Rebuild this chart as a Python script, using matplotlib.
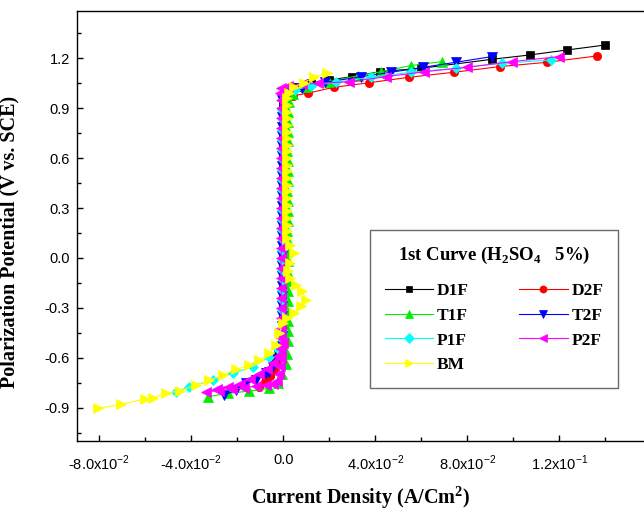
import matplotlib
matplotlib.use("Agg")
import matplotlib.pyplot as plt

# Polarization scans, 1st curve in 5% H2SO4 (current density in A/cm^2, potential in V vs SCE)
D1F_I = [-0.0076, -0.0060, -0.0045, -0.0032, -0.0022, -0.0015,
         -0.0004, -0.0003, -0.0004, -0.0003, -0.0004, -0.0003, -0.0004, -0.0003, -0.0004,
         -0.0003, -0.0004, -0.0003, -0.0004, -0.0003, -0.0004, -0.0003, -0.0004, -0.0003,
         -0.0004, -0.0003, -0.0004, -0.0003, -0.0003, -0.0002, -0.0001, 0.0000,
         0.0025, 0.0060, 0.0120, 0.0200, 0.0300, 0.0420, 0.0600, 0.0907, 0.1071, 0.1233, 0.1400]
D1F_E = [-0.724, -0.69, -0.65, -0.61, -0.57, -0.54,
         -0.52, -0.46, -0.40, -0.34, -0.28, -0.22, -0.16, -0.10, -0.04,
         0.02, 0.08, 0.14, 0.20, 0.26, 0.32, 0.38, 0.44, 0.50,
         0.56, 0.62, 0.68, 0.74, 0.80, 0.86, 0.92, 0.97,
         1.01, 1.03, 1.05, 1.07, 1.09, 1.12, 1.14, 1.194, 1.220, 1.250, 1.280]

D2F_I = [-0.0105, -0.0080, -0.0058, -0.0040, -0.0026, -0.0015,
         0.0000, -0.0001, 0.0000, 0.0001, 0.0000, -0.0001, 0.0000, 0.0001, 0.0000,
         -0.0001, 0.0000, 0.0001, 0.0000, -0.0001, 0.0000, 0.0001, 0.0000, -0.0001,
         0.0000, 0.0001, 0.0000, -0.0001, 0.0000, 0.0001, 0.0003,
         0.0010, 0.0040, 0.0105, 0.0220, 0.0372, 0.0546, 0.0741, 0.0940, 0.1146, 0.1363]
D2F_E = [-0.774, -0.745, -0.71, -0.67, -0.62, -0.57,
         -0.51, -0.45, -0.39, -0.33, -0.27, -0.21, -0.15, -0.09, -0.03,
         0.03, 0.09, 0.15, 0.21, 0.27, 0.33, 0.39, 0.45, 0.51,
         0.57, 0.63, 0.69, 0.75, 0.81, 0.87, 0.93,
         0.96, 0.975, 0.990, 1.026, 1.053, 1.086, 1.116, 1.150, 1.176, 1.214]

T1F_I = [-0.0329, -0.0243, -0.0150, -0.0062, -0.0025, -0.0005, 0.0010, 0.0016,
         0.0018, 0.0019, 0.0018, 0.0017, 0.0018, 0.0019, 0.0018, 0.0017, 0.0018,
         0.0019, 0.0018, 0.0017, 0.0018, 0.0019, 0.0018, 0.0017, 0.0018, 0.0019,
         0.0018, 0.0017, 0.0018, 0.0019, 0.0018, 0.0020, 0.0024,
         0.0040, 0.0100, 0.0200, 0.0322, 0.0423, 0.0553, 0.0690]
T1F_E = [-0.834, -0.814, -0.80, -0.784, -0.75, -0.70, -0.64, -0.58,
         -0.50, -0.44, -0.38, -0.32, -0.26, -0.20, -0.14, -0.08, -0.02,
         0.04, 0.10, 0.16, 0.22, 0.28, 0.34, 0.40, 0.46, 0.52,
         0.58, 0.64, 0.70, 0.76, 0.82, 0.88, 0.94,
         0.985, 1.025, 1.06, 1.095, 1.119, 1.156, 1.180]

T2F_I = [-0.0257, -0.0206, -0.0163, -0.0119, -0.0076, -0.0062, -0.0045, -0.0030, -0.0018,
         -0.0008, -0.0007, -0.0006, -0.0007, -0.0008, -0.0007, -0.0006, -0.0007, -0.0008,
         -0.0007, -0.0006, -0.0007, -0.0008, -0.0007, -0.0006, -0.0007, -0.0008, -0.0007,
         -0.0006, -0.0007, -0.0008, -0.0007, -0.0006, -0.0007,
         -0.0005, 0.0020, 0.0080, 0.0180, 0.0336, 0.0467, 0.0608, 0.0749, 0.0905]
T2F_E = [-0.824, -0.794, -0.754, -0.734, -0.694, -0.684, -0.65, -0.61, -0.57,
         -0.53, -0.47, -0.41, -0.35, -0.29, -0.23, -0.17, -0.11, -0.05,
         0.01, 0.07, 0.13, 0.19, 0.25, 0.31, 0.37, 0.43, 0.49,
         0.55, 0.61, 0.67, 0.73, 0.79, 0.85,
         0.95, 0.985, 1.02, 1.055, 1.089, 1.116, 1.146, 1.176, 1.210]

P1F_I = [-0.0467, -0.0409, -0.0308, -0.0221, -0.0134, -0.0062, -0.0025,
         -0.0006, -0.0005, -0.0004, -0.0005, -0.0006, -0.0005, -0.0004, -0.0005, -0.0006,
         -0.0005, -0.0004, -0.0005, -0.0006, -0.0005, -0.0004, -0.0005, -0.0006, -0.0005,
         -0.0004, -0.0005, -0.0006, -0.0005, -0.0004, -0.0005, -0.0003,
         0.0010, 0.0050, 0.0120, 0.0228, 0.0380, 0.0553, 0.0749, 0.0951, 0.1165]
P1F_E = [-0.804, -0.774, -0.734, -0.694, -0.654, -0.594, -0.55,
         -0.49, -0.43, -0.37, -0.31, -0.25, -0.19, -0.13, -0.07, -0.01,
         0.05, 0.11, 0.17, 0.23, 0.29, 0.35, 0.41, 0.47, 0.53,
         0.59, 0.65, 0.71, 0.77, 0.83, 0.89, 0.95,
         0.99, 1.01, 1.035, 1.056, 1.086, 1.116, 1.140, 1.170, 1.190]

P2F_I = [-0.0004, -0.0012, -0.0025, -0.0045, -0.0072, -0.0105, -0.0145, -0.0190, -0.0240,
         -0.0290, -0.0336,
         -0.0280, -0.0225, -0.0170, -0.0120, -0.0075, -0.0045, -0.0030, -0.0020, -0.0014,
         -0.0010, -0.0011, -0.0010, -0.0009, -0.0010, -0.0011, -0.0010, -0.0009, -0.0010,
         -0.0011, -0.0010, -0.0009, -0.0010, -0.0011, -0.0010, -0.0009, -0.0010, -0.0011,
         -0.0010, -0.0009, -0.0010, -0.0011, -0.0010, -0.0009, -0.0010, -0.0011, -0.0012,
         -0.0015, -0.0010, 0.0020, 0.0080, 0.0150, 0.0285, 0.0445, 0.0611, 0.0799, 0.0994, 0.1197]
P2F_E = [-0.514, -0.55, -0.59, -0.63, -0.665, -0.70, -0.73, -0.755, -0.775,
         -0.79, -0.804,
         -0.798, -0.790, -0.780, -0.770, -0.762, -0.756, -0.74, -0.70, -0.65,
         -0.60, -0.54, -0.48, -0.42, -0.36, -0.30, -0.24, -0.18, -0.12,
         -0.06, 0.00, 0.06, 0.12, 0.18, 0.24, 0.30, 0.36, 0.42,
         0.48, 0.54, 0.60, 0.66, 0.72, 0.78, 0.84, 0.90, 0.95,
         0.99, 1.02, 1.035, 1.045, 1.05, 1.059, 1.089, 1.119, 1.146, 1.180, 1.210]

BM_I = [-0.0807, -0.0705, -0.0604, -0.0568, -0.0510, -0.0452, -0.0380, -0.0322,
        -0.0264, -0.0206, -0.0148, -0.0105, -0.0062, -0.0033, -0.0018, -0.0004,
        0.0015, 0.0045, 0.0075, 0.0100, 0.0080, 0.0055, 0.0030, 0.0020, 0.0030, 0.0045, 0.0030,
        0.0015, 0.0014, 0.0015, 0.0016, 0.0015, 0.0014, 0.0015, 0.0016, 0.0015, 0.0014, 0.0015,
        0.0016, 0.0015, 0.0014, 0.0015, 0.0016, 0.0015, 0.0014, 0.0015, 0.0016, 0.0015, 0.0016,
        0.0025, 0.0047, 0.0090, 0.0134, 0.0191]
BM_E = [-0.904, -0.880, -0.848, -0.842, -0.814, -0.798, -0.764, -0.734,
        -0.704, -0.670, -0.644, -0.614, -0.574, -0.524, -0.453, -0.393,
        -0.36, -0.33, -0.29, -0.25, -0.20, -0.16, -0.12, -0.08, -0.03, 0.03, 0.08,
        0.12, 0.16, 0.20, 0.24, 0.28, 0.32, 0.36, 0.40, 0.44, 0.48, 0.52,
        0.56, 0.60, 0.64, 0.68, 0.72, 0.76, 0.80, 0.84, 0.88, 0.92, 0.96,
        0.990, 1.029, 1.053, 1.089, 1.110]

SERIES = [
    ("D1F", D1F_I, D1F_E, "black", "s", 5.5),
    ("D2F", D2F_I, D2F_E, "#ff0000", "o", 6),
    ("T1F", T1F_I, T1F_E, "#00ee00", "^", 7),
    ("T2F", T2F_I, T2F_E, "#0000ff", "v", 7),
    ("P1F", P1F_I, P1F_E, "#00ffff", "D", 5.5),
    ("P2F", P2F_I, P2F_E, "#ff00ff", "<", 7),
    ("BM", BM_I, BM_E, "#ffff00", ">", 7.5),
]

X_TICKS = [-0.08, -0.04, 0.0, 0.04, 0.08, 0.12]
X_TICK_LABELS = [r"-8.0x10$^{-2}$", r"-4.0x10$^{-2}$", "0.0",
                 r"4.0x10$^{-2}$", r"8.0x10$^{-2}$", r"1.2x10$^{-1}$"]
X_MINOR = [-0.06, -0.02, 0.02, 0.06, 0.10, 0.14]
Y_TICKS = [-0.9, -0.6, -0.3, 0.0, 0.3, 0.6, 0.9, 1.2]
Y_TICK_LABELS = ["-0.9", "-0.6", "-0.3", "0.0", "0.3", "0.6", "0.9", "1.2"]
Y_MINOR = [-1.05, -0.75, -0.45, -0.15, 0.15, 0.45, 0.75, 1.05, 1.35]

plt.rcParams["mathtext.fontset"] = "custom"
plt.rcParams["mathtext.rm"] = "Liberation Sans"
plt.rcParams["mathtext.bf"] = "Liberation Serif:bold"
plt.rcParams["axes.unicode_minus"] = False

serif_bold = dict(family="Liberation Serif", weight="bold", size=14.5)

fig = plt.figure(figsize=(6.44, 5.12), dpi=100)
ax = fig.add_axes([0.1191, 0.1387, 0.8825, 0.8404])

handles = {}
for name, cur, pot, col, mk, ms in SERIES:
    (h,) = ax.plot(cur, pot, color=col, lw=0.8, marker=mk, ms=ms,
                   mfc=col, mec=col, mew=0.5, label=name)
    handles[name] = h

ax.set_xlim(-0.0899, 0.1572)
ax.set_ylim(-1.10, 1.486)
ax.set_xticks(X_TICKS)
ax.set_xticklabels(X_TICK_LABELS)
ax.set_xticks(X_MINOR, minor=True)
ax.set_yticks(Y_TICKS)
ax.set_yticklabels(Y_TICK_LABELS)
ax.set_yticks(Y_MINOR, minor=True)
ax.tick_params(which="both", direction="in", width=1.0)
ax.tick_params(which="major", length=4.5)
ax.tick_params(which="minor", length=3)
ax.tick_params(axis="x", pad=9)
ax.tick_params(axis="y", pad=5)
for lab in ax.get_xticklabels() + ax.get_yticklabels():
    lab.set_family("Liberation Sans")
    lab.set_fontsize(10.5)
for sp in ax.spines.values():
    sp.set_linewidth(1.0)

ax.set_xlabel(r"Current Density (A/Cm$^\mathbf{2}$)", **serif_bold)
ax.set_ylabel("Polarization Potential (V vs. SCE)", **serif_bold)
ax.xaxis.set_label_coords(0.5, -0.100)
ax.yaxis.set_label_coords(-0.100, 0.462)

order = ["D1F", "T1F", "P1F", "BM", "D2F", "T2F", "P2F"]
leg = ax.legend([handles[k] for k in order], order, ncol=2,
                loc="upper left", bbox_to_anchor=(0.516, 0.490),
                borderaxespad=0, frameon=True, fancybox=False,
                prop=dict(family="Liberation Serif", weight="bold", size=12.5),
                title=r"1st Curve (H$_\mathbf{2}$SO$_\mathbf{4}$   5%)",
                title_fontproperties=dict(family="Liberation Serif", weight="bold", size=13.5),
                handlelength=2.8, handletextpad=0.2, columnspacing=2.9,
                labelspacing=0.5, borderpad=0.85, markerscale=0.85)
leg.get_frame().set_edgecolor("#444444")
leg.get_frame().set_linewidth(1.0)
# a little extra room between the legend title and the entries
leg._legend_box.sep = 12

fig.savefig("out.png", dpi=100)
